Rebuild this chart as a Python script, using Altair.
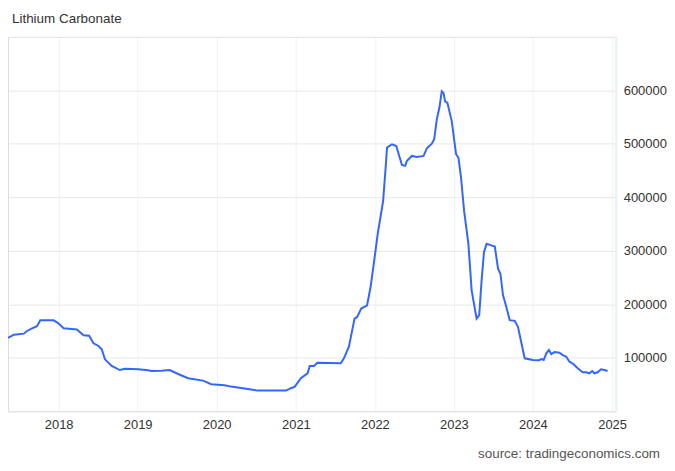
import altair as alt
import pandas as pd

dates = [
    "2017-05-12", "2017-06-08", "2017-07-24", "2017-08-08", "2017-08-31", "2017-09-23",
    "2017-10-08", "2017-12-09", "2018-01-01", "2018-01-24", "2018-03-26", "2018-04-26",
    "2018-05-22", "2018-06-11", "2018-07-04", "2018-07-19", "2018-08-03", "2018-09-03",
    "2018-10-11", "2018-11-03", "2019-01-04", "2019-02-19", "2019-03-06", "2019-04-21",
    "2019-05-29", "2019-07-07", "2019-08-22", "2019-10-30", "2019-12-07", "2020-02-06",
    "2020-03-08", "2020-05-24", "2020-07-09", "2020-11-16", "2020-12-09", "2020-12-27",
    "2021-01-24", "2021-02-24", "2021-03-06", "2021-03-26", "2021-04-10", "2021-07-27",
    "2021-08-11", "2021-09-03", "2021-09-29", "2021-10-11", "2021-10-30", "2021-11-26",
    "2021-12-12", "2021-12-27", "2022-01-14", "2022-02-08", "2022-02-22", "2022-02-26",
    "2022-03-21", "2022-04-10", "2022-04-21", "2022-05-06", "2022-05-21", "2022-05-29",
    "2022-06-21", "2022-07-14", "2022-08-14", "2022-08-29", "2022-09-21", "2022-10-02",
    "2022-10-14", "2022-10-26", "2022-11-06", "2022-11-14", "2022-11-21", "2022-12-02",
    "2022-12-22", "2023-01-11", "2023-01-22", "2023-02-03", "2023-02-17", "2023-03-09",
    "2023-03-24", "2023-04-01", "2023-04-16", "2023-04-28", "2023-05-09", "2023-05-20",
    "2023-06-01", "2023-06-16", "2023-07-09", "2023-07-24", "2023-08-04", "2023-08-16",
    "2023-08-27", "2023-09-16", "2023-10-09", "2023-10-24", "2023-11-24", "2024-01-01",
    "2024-01-29", "2024-02-09", "2024-02-20", "2024-03-03", "2024-03-15", "2024-03-26",
    "2024-04-10", "2024-05-03", "2024-05-18", "2024-06-03", "2024-06-18", "2024-07-06",
    "2024-07-26", "2024-08-18", "2024-09-03", "2024-09-18", "2024-10-01", "2024-10-11",
    "2024-10-26", "2024-11-11", "2024-11-26", "2024-12-11",
]
prices = [
    137000, 143000, 145000, 150000, 155000, 159000,
    170000, 170000, 164000, 155000, 153000, 142000,
    141000, 127000, 122000, 116000, 97000, 84500,
    77000, 79500, 78500, 76500, 75200, 75800,
    77000, 69600, 61600, 57200, 50500, 48600,
    46000, 41700, 38500, 38500, 43000, 46000,
    61600, 70900, 84500, 84500, 90700, 89600,
    98900, 120500, 173300, 176300, 192000, 198100,
    232200, 275800, 331600, 393000, 468100, 492900,
    499200, 496000, 480600, 460700, 458800, 468100,
    477400, 475600, 477400, 491800, 500300, 508500,
    545800, 567400, 598400, 595300, 579800, 576700,
    542600, 480600, 474300, 437000, 375000, 313000,
    226000, 207400, 173300, 179500, 244700, 297400,
    313000, 311100, 308000, 266500, 257100, 216700,
    201300, 170200, 168900, 157700, 98900, 95700,
    95100, 97600, 95700, 108200, 114300, 106900,
    110600, 109300, 105000, 101900, 92500, 88300,
    80300, 72800, 72800, 70900, 75200, 70900,
    72800, 78400, 77100, 75200,
]

title_text = "Lithium Carbonate"
source_text = ["source: tradingeconomics.com"]
y_ticks = [0, 100000, 200000, 300000, 400000, 500000, 600000, 700000]
x_domain = ["2017-05-12", "2025-01-20"]

df = pd.DataFrame({"date": pd.to_datetime(dates), "price": prices})

W, H = 611, 376
FONT = "Liberation Sans"

x_enc = alt.X(
    "date:T",
    scale=alt.Scale(domain=x_domain),
    axis=alt.Axis(
        title=None, format="%Y", tickCount={"interval": "year", "step": 1},
        grid=True, gridColor="#edf2f4", gridWidth=1,
        domain=True, domainColor="#e3e3e3", ticks=False,
        labelFontSize=13, labelColor="#333333", labelPadding=7, labelFont=FONT,
    ),
)
y_enc = alt.Y(
    "price:Q",
    scale=alt.Scale(domain=[0, 700000], nice=False, zero=True),
    axis=alt.Axis(
        title=None, orient="right", values=y_ticks, format="d",
        labelExpr="(datum.value == 0 || datum.value == 700000) ? '' : datum.label",
        grid=True, gridColor="#e8e8e8", gridWidth=1,
        domain=False, ticks=False,
        labelFontSize=13, labelColor="#333333", labelPadding=7, labelFont=FONT,
    ),
)

line = alt.Chart(df).mark_line(color="#3366ff", strokeWidth=2, clip=True).encode(
    x=x_enc, y=y_enc
)

border = alt.Chart(df).mark_rule(color="#edf2f4", strokeWidth=1).encode(
    x=alt.value(W), y=alt.value(0), y2=alt.value(H)
)

src = alt.Chart(pd.DataFrame({"t": source_text})).mark_text(
    align="right", baseline="middle", fontSize=13.5, color="#555555", font=FONT
).encode(text="t:N", x=alt.value(655), y=alt.value(419))

chart = alt.layer(border, line, src).properties(
    width=W, height=H,
    title=alt.TitleParams(
        text=title_text, anchor="start", fontSize=13.5, fontWeight="normal",
        color="#333333", font=FONT, offset=11, dx=4,
    ),
    padding={"left": 0, "top": 3, "right": 0, "bottom": 0},
).configure_view(stroke=None).configure(background="white")

chart.save("out.html", embed_options={"renderer": "svg", "actions": False})
